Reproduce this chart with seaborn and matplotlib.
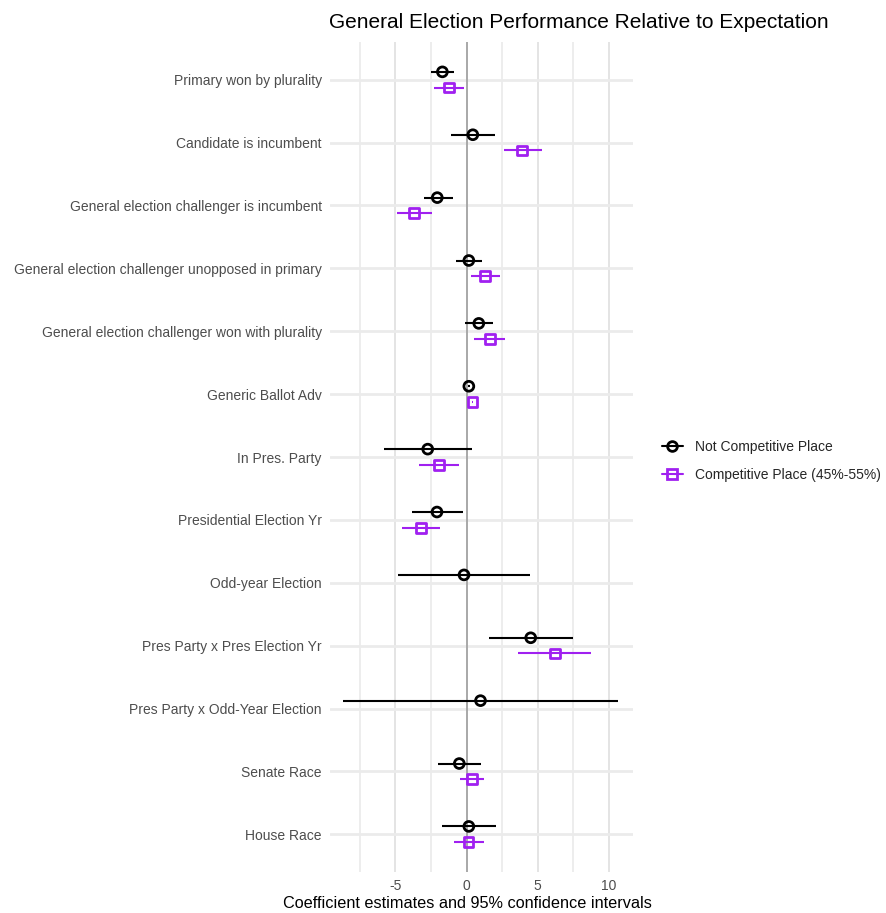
import numpy as np
import pandas as pd
import matplotlib
matplotlib.use("Agg")
import matplotlib.pyplot as plt
from matplotlib.lines import Line2D
import seaborn as sns

terms = [
    "Primary won by plurality",
    "Candidate is incumbent",
    "General election challenger is incumbent",
    "General election challenger unopposed in primary",
    "General election challenger won with plurality",
    "Generic Ballot Adv",
    "In Pres. Party",
    "Presidential Election Yr",
    "Odd-year Election",
    "Pres Party x Pres Election Yr",
    "Pres Party x Odd-Year Election",
    "Senate Race",
    "House Race",
]

# Not competitive place: estimate, lower, upper
nc_est = [-1.70, 0.44, -2.06, 0.16, 0.86, 0.16, -2.73, -2.08, -0.18, 4.51, 0.98, -0.51, 0.16]
nc_lo = [-2.47, -1.07, -3.01, -0.72, -0.09, 0.10, -5.82, -3.81, -4.79, 1.57, -8.71, -2.01, -1.75]
nc_hi = [-0.91, 2.01, -0.98, 1.07, 1.85, 0.22, 0.40, -0.28, 4.46, 7.50, 10.67, 0.98, 2.08]

# Competitive place (45%-55%); no estimate for the odd-year terms
cp_est = [-1.26, 3.92, -3.67, 1.29, 1.64, 0.42, -1.96, -3.22, np.nan, 6.19, np.nan, 0.40, 0.14]
cp_lo = [-2.31, 2.64, -4.91, 0.33, 0.54, 0.36, -3.36, -4.53, np.nan, 3.64, np.nan, -0.49, -0.91]
cp_hi = [-0.16, 5.28, -2.43, 2.36, 2.71, 0.48, -0.51, -1.87, np.nan, 8.74, np.nan, 1.24, 1.21]

groups = ["Not Competitive Place", "Competitive Place (45%-55%)"]
colors = {"Not Competitive Place": "black", "Competitive Place (45%-55%)": "#A020F0"}
markers = {"Not Competitive Place": "o", "Competitive Place (45%-55%)": "s"}
offsets = {"Not Competitive Place": -0.125, "Competitive Place (45%-55%)": 0.125}

rows = []
for g, est, lo, hi in [(groups[0], nc_est, nc_lo, nc_hi), (groups[1], cp_est, cp_lo, cp_hi)]:
    for i, t in enumerate(terms):
        rows.append(dict(term=t, pos=i + offsets[g], group=g, est=est[i], lo=lo[i], hi=hi[i]))
df = pd.DataFrame(rows).dropna()

sns.set_theme(style="white")
plt.rcParams["font.family"] = ["Liberation Sans", "DejaVu Sans"]

fig = plt.figure(figsize=(8.86, 9.13), dpi=100)
ax = fig.add_axes([330 / 886, 41 / 913, 303 / 886, 830 / 913])

# grid
for x in [-7.5, -2.5, 2.5, 7.5]:
    ax.axvline(x, color="#e8e8e8", lw=1.1, zorder=0)
for x in [-5, 5, 10]:
    ax.axvline(x, color="#e4e4e4", lw=1.4, zorder=0)
for i in range(len(terms)):
    ax.axhline(i, color="#ebebeb", lw=2.0, zorder=0)
ax.axvline(0, color="#a8a8a8", lw=1.4, zorder=1)

# confidence intervals
for g in groups:
    sub = df[df.group == g]
    ax.hlines(sub["pos"], sub["lo"], sub["hi"], color=colors[g], lw=1.5, zorder=2)

sns.scatterplot(data=df, x="est", y="pos", hue="group", style="group",
                palette=colors, markers=markers, s=50,
                linewidth=2.0, legend=False, ax=ax, zorder=3)
# open markers: face none, edge colored by group
pts = ax.collections[-1]
ec = [matplotlib.colors.to_rgba(colors[g]) for g in df["group"]]
pts.set_edgecolors(ec)
pts.set_facecolors("none")

ax.set_xlim(-9.6, 11.7)
ax.set_ylim(len(terms) - 0.4, -0.6)
ax.set_yticks(range(len(terms)))
ax.set_yticklabels(terms)
ax.set_xticks([-5, 0, 5, 10])
ax.set_xticklabels(["-5", "0", "5", "10"])
ax.tick_params(axis="both", length=0, labelsize=10, labelcolor="#4d4d4d")
ax.tick_params(axis="y", pad=6)
ax.tick_params(axis="x", pad=5)
for s in ax.spines.values():
    s.set_visible(False)
ax.set_xlabel("")
ax.set_ylabel("")

fig.text(467 / 886, 1 - 903 / 913, "Coefficient estimates and 95% confidence intervals",
         ha="center", va="center", fontsize=11.7, color="black")
fig.text(329 / 886, 1 - 22 / 913, "General Election Performance Relative to Expectation",
         ha="left", va="center", fontsize=15, color="black")

handles = [Line2D([0], [0], color=colors[g], lw=1.5, marker=markers[g], markersize=7,
                  markerfacecolor="none", markeredgewidth=2.0, markeredgecolor=colors[g])
           for g in groups]
fig.legend(handles, groups, loc="center left", bbox_to_anchor=(662 / 886, 1 - 461 / 913),
           frameon=False, fontsize=10, handlelength=1.5, labelspacing=1.0,
           handletextpad=0.9, borderaxespad=0, borderpad=0)

fig.savefig("out.png", dpi=100)
